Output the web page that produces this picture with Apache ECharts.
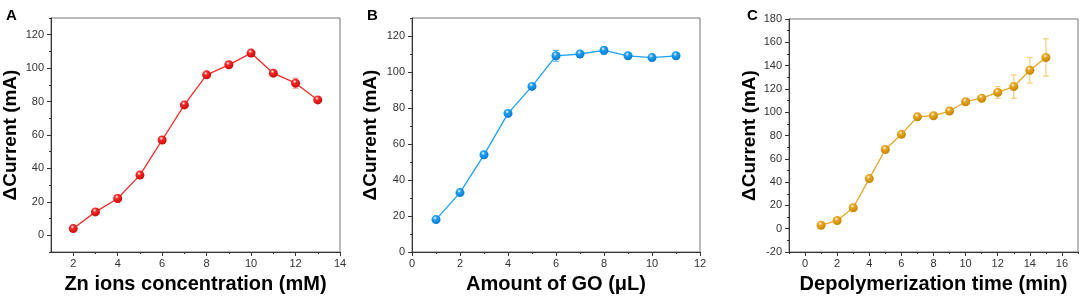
<!DOCTYPE html>
<html><head><meta charset="utf-8">
<script src="https://cdn.jsdelivr.net/npm/echarts@6/dist/echarts.min.js"></script>
<style>html,body{margin:0;padding:0;background:#fff}#c{width:1084px;height:304px}</style>
</head><body><div id="c"></div>
<script>
// Panel A: Zn ions concentration
const xA = [2,3,4,5,6,7,8,9,10,11,12,13];
const yA = [4,14,22,36,57,78,96,102,109,97,91,81];
const eA = [1,1,1,1,1,1,1,1,1,1,3,1];
const xTicksA = [2,4,6,8,10,12,14];
const xMinorA = [3,5,7,9,11,13];
const yTicksA = [0,20,40,60,80,100,120];
const yMinorA = [-10,10,30,50,70,90,110,130];
// Panel B: Amount of GO
const xB = [1,2,3,4,5,6,7,8,9,10,11];
const yB = [18,33,54,77,92,109,110,112,109,108,109];
const eB = [1,1,1,1,1,3,1,2,1,1,1];
const xTicksB = [0,2,4,6,8,10,12];
const xMinorB = [1,3,5,7,9,11];
const yTicksB = [0,20,40,60,80,100,120];
const yMinorB = [10,30,50,70,90,110,130];
// Panel C: Depolymerization time
const xC = [1,2,3,4,5,6,7,8,9,10,11,12,13,14,15];
const yC = [3,7,18,43,68,81,96,97,101,109,112,117,122,136,147];
const eC = [1,1,1,1,1,1,1,1,1,1,1,5,10,11,16];
const xTicksC = [0,2,4,6,8,10,12,14,16];
const xMinorC = [-1,1,3,5,7,9,11,13,15,17];
const yTicksC = [-20,0,20,40,60,80,100,120,140,160,180];
const yMinorC = [-10,10,30,50,70,90,110,130,150,170];

const yName = 'ΔCurrent (mA)';
const panels = [
  {letter:'A', x:xA, y:yA, e:eA, xt:xTicksA, xm:xMinorA, yt:yTicksA, ym:yMinorA,
   xmin:1, xmax:14, ymin:-10, ymax:130, xname:'Zn ions concentration (mM)',
   grid:{left:50, right:744, top:18, bottom:52}, yGap:31,
   color:'#f52a2a', dark:'#c80808', err:'#f39a9a', lx:6, ly:8},
  {letter:'B', x:xB, y:yB, e:eB, xt:xTicksB, xm:xMinorB, yt:yTicksB, ym:yMinorB,
   xmin:0, xmax:12, ymin:0, ymax:130, xname:'Amount of GO (μL)',
   grid:{left:412, right:384, top:18, bottom:52}, yGap:32,
   color:'#1ea0f2', dark:'#0a78c8', err:'#5ab8f5', lx:367, ly:8},
  {letter:'C', x:xC, y:yC, e:eC, xt:xTicksC, xm:xMinorC, yt:yTicksC, ym:yMinorC,
   xmin:-1, xmax:17, ymin:-20, ymax:180, xname:'Depolymerization time (min)',
   grid:{left:789, right:6, top:19, bottom:52}, yGap:29,
   color:'#eaa622', dark:'#c08400', err:'#f2cf7a', lx:747, ly:8}
];

const grids=[], xAxes=[], yAxes=[], series=[], graphic=[];
const labelStyle = {color:'#333', fontSize:11, fontFamily:'Liberation Sans, Arial, sans-serif'};
panels.forEach((p, gi) => {
  grids.push(Object.assign({show:true, borderColor:'#777', borderWidth:1, backgroundColor:'transparent'}, p.grid));
  const xi = xAxes.length, yi = yAxes.length;
  xAxes.push({type:'value', gridIndex:gi, min:p.xmin, max:p.xmax, position:'bottom',
    name:p.xname, nameLocation:'middle', nameGap:22,
    nameTextStyle:{fontSize:20, fontWeight:'bold', color:'#000', fontFamily:'Liberation Sans, Arial, sans-serif'},
    axisLine:{show:true, onZero:false, lineStyle:{color:'#333', width:1}},
    axisTick:{show:true, inside:false, length:4, customValues:p.xt, lineStyle:{color:'#333'}},
    axisLabel:Object.assign({show:true, margin:6, customValues:p.xt}, labelStyle),
    splitLine:{show:false}});
  xAxes.push({type:'value', gridIndex:gi, min:p.xmin, max:p.xmax, position:'bottom', offset:0,
    axisLine:{show:false, onZero:false}, axisLabel:{show:false}, splitLine:{show:false},
    axisTick:{show:true, inside:false, length:2, customValues:p.xm, lineStyle:{color:'#333'}}});
  yAxes.push({type:'value', gridIndex:gi, min:p.ymin, max:p.ymax, position:'left',
    name:yName, nameLocation:'middle', nameGap:p.yGap,
    nameTextStyle:{fontSize:19, fontWeight:'bold', color:'#000', fontFamily:'Liberation Sans, Arial, sans-serif'},
    axisLine:{show:true, onZero:false, lineStyle:{color:'#333', width:1}},
    axisTick:{show:true, inside:false, length:4, customValues:p.yt, lineStyle:{color:'#333'}},
    axisLabel:Object.assign({show:true, margin:7, customValues:p.yt}, labelStyle),
    splitLine:{show:false}});
  yAxes.push({type:'value', gridIndex:gi, min:p.ymin, max:p.ymax, position:'left', offset:0,
    axisLine:{show:false, onZero:false}, axisLabel:{show:false}, splitLine:{show:false},
    axisTick:{show:true, inside:false, length:2, customValues:p.ym, lineStyle:{color:'#333'}}});

  const pts = p.x.map((v,i)=>[v, p.y[i]]);
  const errPts = p.x.map((v,i)=>[v, p.y[i], p.e[i]]);
  const errColor = p.err;
  series.push({type:'custom', xAxisIndex:xi, yAxisIndex:yi, z:2, silent:true,
    data:errPts,
    renderItem:function(params, api){
      const x=api.value(0), y=api.value(1), e=api.value(2);
      const top=api.coord([x, y+e]), bot=api.coord([x, y-e]);
      const w=3;
      const st={stroke:errColor, lineWidth:1.2};
      return {type:'group', children:[
        {type:'line', shape:{x1:top[0], y1:top[1], x2:bot[0], y2:bot[1]}, style:st},
        {type:'line', shape:{x1:top[0]-w, y1:top[1], x2:top[0]+w, y2:top[1]}, style:st},
        {type:'line', shape:{x1:bot[0]-w, y1:bot[1], x2:bot[0]+w, y2:bot[1]}, style:st}
      ]};
    }});
  series.push({type:'line', xAxisIndex:xi, yAxisIndex:yi, z:3, data:pts,
    symbol:'circle', symbolSize:9, showSymbol:true, animation:false,
    lineStyle:{color:p.color, width:1.3},
    itemStyle:{color:{type:'radial', x:0.4, y:0.32, r:0.7, colorStops:[
      {offset:0, color:'#ffffff'}, {offset:0.3, color:p.color}, {offset:1, color:p.dark}]}, borderWidth:0}});
  graphic.push({type:'text', left:p.lx, top:p.ly, style:{text:p.letter, fontSize:15, fontWeight:'bold', fill:'#000', fontFamily:'Liberation Sans, Arial, sans-serif'}});
});

const chart = echarts.init(document.getElementById('c'), null, {renderer:'canvas'});
chart.setOption({animation:false, grid:grids, xAxis:xAxes, yAxis:yAxes, series:series, graphic:graphic});
</script></body></html>
